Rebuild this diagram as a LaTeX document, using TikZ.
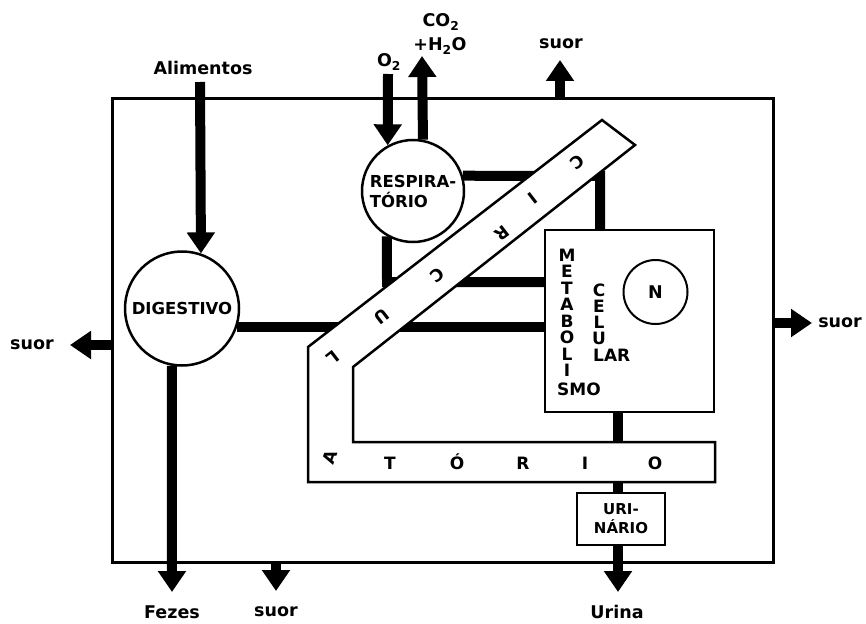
\documentclass[tikz,border=0pt]{standalone}
\usepackage{fontspec}
\setmainfont{DejaVu Sans}
\usetikzlibrary{arrows.meta}
\pgfdeclarelayer{lconn}
\pgfdeclarelayer{lband}
\pgfsetlayers{lconn,lband,main}
\begin{document}
\begin{tikzpicture}[x=1pt,y=-1pt,
  lbl/.style={font=\bfseries\fontsize{17.5}{20}\selectfont, inner sep=0pt},
  org/.style={font=\bfseries\fontsize{16.5}{20}\selectfont},
  bl/.style={font=\bfseries\fontsize{17}{18}\selectfont, inner sep=0pt},
  conn/.style={line width=10pt},
  arr/.style={line width=10pt,-{Triangle[width=27pt,length=21pt]}},
  organ/.style={circle,draw,line width=2.5pt,fill=white,inner sep=0pt},
  boxed/.style={rectangle,draw,line width=2.5pt,fill=white,inner sep=0pt}]
\useasboundingbox (0,0) rectangle (866,623);

% outer body
\node[draw,line width=3pt,minimum width=661pt,minimum height=463pt,inner sep=0pt] (body) at (442.5,330.5) {};

% organs
\node[organ,minimum size=114pt,org] (dig) at (182,308.5) {DIGESTIVO};
\node[organ,minimum size=102pt,org,align=left] (resp) at (413,191) {RESPIRA-\\TÓRIO};
\node[boxed,minimum width=169pt,minimum height=182pt] (met) at (629.5,321) {};
\node[circle,draw,line width=2pt,minimum size=64pt,inner sep=0pt,lbl] (nuc) at (655.5,292) {N};
\node[boxed,minimum width=88pt,minimum height=52pt,align=center,font=\bfseries\fontsize{15}{19}\selectfont] (uri) at (621,519) {URI-\\NÁRIO};

% metabolismo celular
\foreach \l [count=\i] in {M,E,T,A,B,O,L,I}
  \node[bl] (m\i) at (567,{255+16.5*(\i-1)}) {\l};
\node[bl,anchor=west] (smo) at (557,389) {SMO};
\foreach \l [count=\i] in {C,E,L,U}
  \node[bl] (c\i) at (599,{290+16*(\i-1)}) {\l};
\node[bl,anchor=west] (lar) at (593,355) {LAR};

% outside labels
\node[lbl] (alim) at (203,68) {Alimentos};
\node[lbl] (o2) at (389,62) {O\textsubscript{2}};
\node[lbl] (co2) at (441,22) {CO\textsubscript{2}};
\node[lbl] (h2o) at (440,46) {+H\textsubscript{2}O};
\node[lbl] (suorT) at (561,44) {suor};
\node[lbl] (suorL) at (32,345) {suor};
\node[lbl] (suorR) at (840,323) {suor};
\node[lbl] (fezes) at (172,612) {Fezes};
\node[lbl] (suorB) at (276,612) {suor};
\node[lbl] (urina) at (617,612) {Urina};

% free ends
\coordinate (alimS) at (200,82);
\coordinate (o2s) at (388,74);
\coordinate (tipC) at (422,56);
\coordinate (tipT) at (560,60);
\coordinate (tipL) at (70,345);
\coordinate (tipR) at (812,323);
\coordinate (tipB) at (276,591);
\coordinate (tipF) at (172,592);
\coordinate (tipU) at (618,592);
\coordinate (rr) at (600,176);
\coordinate (rd) at (387,282);
\coordinate (de) at (dig.-18.9);
\coordinate (bt) at (618,442);
\coordinate (bb) at (618,482);

% connectors
\begin{pgfonlayer}{lconn}
\draw[arr] (alimS) -- (dig.71.6);
\draw[arr] (dig.-100.1) -- (tipF);
\draw[arr] (o2s) -- (resp.119.4);
\draw[arr] (resp.79.8) -- (tipC);
\draw[arr] (body.north -| tipT) -- (tipT);
\draw[arr] (body.west |- tipL) -- (tipL);
\draw[arr] (body.east |- tipR) -- (tipR);
\draw[arr] (body.south -| tipB) -- (tipB);
\draw[arr] (uri.south -| tipU) -- (tipU);
\draw[conn] (de) -- (de -| met.west);
\draw[conn,line join=miter] (resp.17.1) -- (rr) -- (rr |- met.north);
\draw[conn,line join=miter] (resp.-120.7) -- (rd) -- (rd -| met.west);
\draw[conn] (met.south -| bt) -- (bt);
\draw[conn] (bb) -- (bb |- uri.north);
\end{pgfonlayer}

% circulatory band
\begin{pgfonlayer}{lband}
\draw[line width=2.5pt,fill=white,line join=miter]
  (602,120) -- (635,145) -- (353,367) -- (353,442) -- (715,442)
  -- (715,482) -- (308,482) -- (308,347) -- cycle;
\end{pgfonlayer}
\node[bl,rotate=217.7] (b1) at (577,162) {C};
\node[bl,rotate=217.7] (b2) at (533,198) {I};
\node[bl,rotate=217.7] (b3) at (502,233) {R};
\node[bl,rotate=217.7] (b4) at (437,275) {C};
\node[bl,rotate=217.7] (b5) at (382,317) {U};
\node[bl,rotate=217.7] (b6) at (333,358) {L};
\node[bl,rotate=70] (b7) at (330,457) {A};
\node[bl,anchor=base] (b8) at (390,469) {T};
\node[bl,anchor=base] (b9) at (457,469) {Ó};
\node[bl,anchor=base] (b10) at (523,469) {R};
\node[bl,anchor=base] (b11) at (585,469) {I};
\node[bl,anchor=base] (b12) at (655,469) {O};
\end{tikzpicture}
\end{document}
